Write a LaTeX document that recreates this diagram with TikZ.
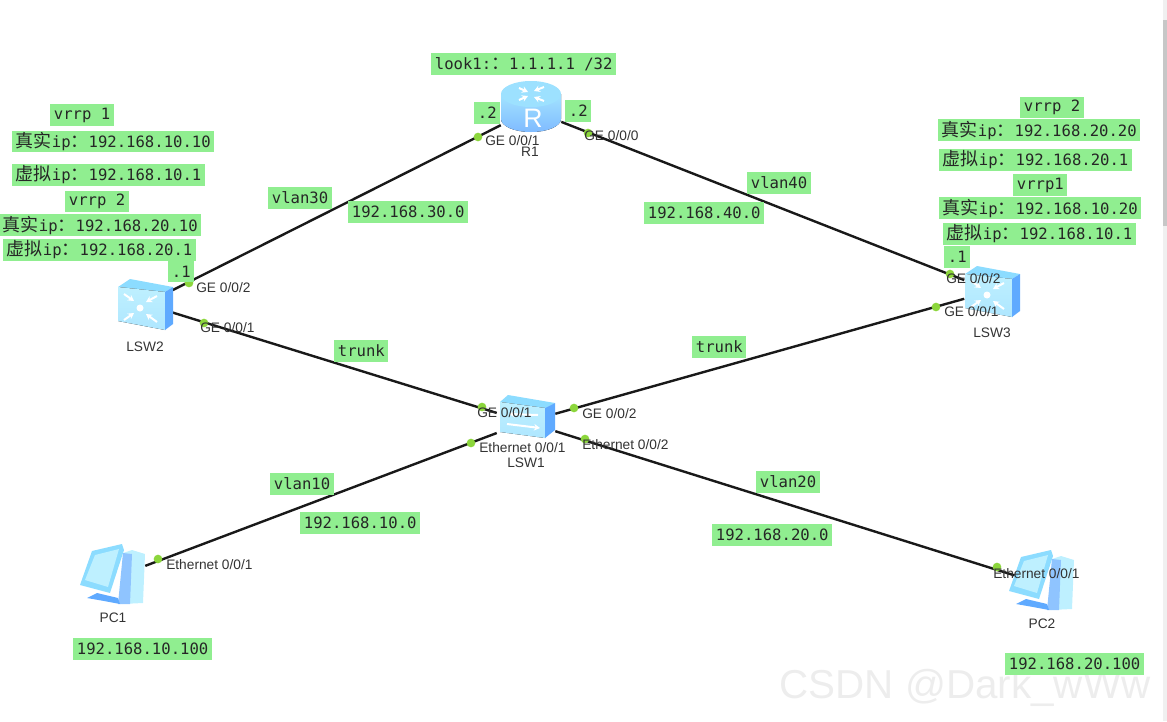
\documentclass[tikz,border=0pt]{standalone}
\usepackage{fontspec}
\setmainfont{Liberation Sans}
\setmonofont{DejaVu Sans Mono}
\newfontfamily\cjk{Noto Sans CJK SC}
\usetikzlibrary{arrows.meta}
\definecolor{tagfill}{RGB}{144,238,144}
\definecolor{portdot}{RGB}{140,214,60}
\definecolor{iconlight}{RGB}{190,240,255}
\definecolor{iconmid}{RGB}{140,220,255}
\definecolor{icondark}{RGB}{95,170,255}
\newcommand{\zw}[1]{{\cjk\fontsize{13.5pt}{13.5pt}\selectfont #1}}
\tikzset{
  tag/.style={fill=tagfill,anchor=west,font=\ttfamily\fontsize{11.7pt}{12pt}\selectfont,text=black!85,inner xsep=2.7pt,inner ysep=0pt,minimum height=16pt},
  port/.style={anchor=west,inner sep=0pt,font=\fontsize{10.3pt}{11pt}\selectfont,text=black!80},
  devname/.style={inner sep=0pt,font=\fontsize{10.3pt}{11pt}\selectfont,text=black!80},
  devbox/.style={minimum width=#1,inner sep=0pt},
  link/.style={line width=1.8pt,black!90},
  dot/.style={circle,fill=portdot,minimum size=6.5pt,inner sep=0pt},
  glyph/.style={white,line width=1.5pt,-{Stealth[length=4.5pt,width=5pt]}},
  switchtall/.pic={
    \fill [iconmid] (-27,-17) -- (-15,-25) -- (28,-17) -- (20,-12) -- cycle ;
    \fill [top color=iconlight,bottom color=iconmid!70] (-27,-17) -- (20,-12) -- (20,26) -- (-27,17) -- cycle ;
    \fill [icondark] (20,-12) -- (28,-17) -- (28,20) -- (20,26) -- cycle ;
    \draw [glyph] (-21,-10) -- (-11,-3) ;
    \draw [glyph] (12,-8) -- (1,-2) ;
    \draw [glyph] (-21,16) -- (-11,9) ;
    \draw [glyph] (12,18) -- (1,10) ;
    \fill [white] (-5,4) circle (3.5) ;
  },
  switchflat/.pic={
    \fill [iconmid] (-26,-20) -- (-18,-27) -- (29,-19) -- (19,-14) -- cycle ;
    \fill [top color=iconlight,bottom color=iconmid!70] (-26,-20) -- (19,-14) -- (19,16) -- (-26,10) -- cycle ;
    \fill [icondark] (19,-14) -- (29,-19) -- (29,8) -- (19,16) -- cycle ;
    \draw [glyph] (12,-7) -- (-17,-8) ;
    \draw [glyph] (-19,2) -- (14,6) ;
  },
  routericon/.pic={
    \fill [top color=iconmid!80,bottom color=icondark!80] (-30,-16) -- (-30,9) arc [start angle=180,end angle=360,x radius=30,y radius=-13] -- (30,-16) -- cycle ;
    \fill [iconmid!85] (0,-16) ellipse [x radius=30,y radius=13] ;
    \draw [glyph] (-12,-22) -- (-3,-18) ;
    \draw [glyph] (13,-23) -- (3,-19) ;
    \draw [glyph] (-12,-10) -- (-3,-14) ;
    \draw [glyph] (13,-9) -- (3,-13) ;
  },
  pcicon/.pic={
    \fill [iconlight] (19,-28) -- (32,-24) -- (30,25) -- (9,26) -- (10,-25) -- cycle ;
    \fill [icondark!70] (10,-25) -- (19,-24) -- (17,26) -- (5,26) -- cycle ;
    \fill [icondark] (-26,20) -- (-16,15) -- (5,20) -- (7,26) -- (-9,23) -- cycle ;
    \fill [iconmid] (-21,-27) -- (9,-34) -- (11,-28) -- (-3,15) -- (-33,7) -- cycle ;
    \fill [iconlight] (-18,-23) -- (6,-29) -- (-5,9) -- (-28,2) -- cycle ;
  }
}
\begin{document}
\begin{tikzpicture}[x=0.75pt,y=0.75pt,yscale=-1,xscale=1]
\useasboundingbox (0,0) rectangle (1167,721);

%Scroll bar
\fill [black!6] (1163,0) rectangle (1167,721) ;
\fill [black!22] (1163,20) rectangle (1167,226) ;

%Device boxes
\node [devbox=60pt*0.75,minimum height=34.5pt] (R1) at (531,110) {};
\node [devbox=55pt*0.75,minimum height=39pt] (LSW2) at (145,304) {};
\node [devbox=55pt*0.75,minimum height=39pt] (LSW3) at (992,291) {};
\node [devbox=58pt*0.75,minimum height=36pt] (LSW1) at (526,422) {};
\node [devbox=64pt*0.75,minimum height=48pt] (PC1) at (113,578) {};
\node [devbox=50pt*0.75,minimum height=48pt] (PC2) at (1042,584) {};

%Straight Lines
\draw [link] (LSW2) -- (R1) ;
\draw [link] (R1) -- (LSW3) ;
\draw [link] (LSW2) -- (LSW1) ;
\draw [link] (LSW1) -- (LSW3) ;
\draw [link] (PC1) -- (LSW1) ;
\draw [link] (LSW1) -- (PC2) ;

%Port dots
\node [dot] (dotA) at (189,283) {};
\node [dot] (dotB) at (204,323) {};
\node [dot] (dotC) at (478,137) {};
\node [dot] (dotD) at (588,133) {};
\node [dot] (dotE) at (950,274) {};
\node [dot] (dotF) at (936,307) {};
\node [dot] (dotG) at (482,407) {};
\node [dot] (dotH) at (574,408) {};
\node [dot] (dotI) at (471,443) {};
\node [dot] (dotJ) at (585,439) {};
\node [dot] (dotK) at (158,559) {};
\node [dot] (dotL) at (997,567) {};

%Device icons
\pic [transform shape] at (R1) {routericon};
\node [text=white,inner sep=0pt,font=\fontsize{20pt}{20pt}\selectfont] (Rmark) at (533,118) {R};
\pic [transform shape] at (LSW2) {switchtall};
\pic [transform shape] at (LSW3) {switchtall};
\pic [transform shape] at (LSW1) {switchflat};
\pic [transform shape] at (PC1) {pcicon};
\pic [transform shape] at (PC2) {pcicon};

% Watermark
\draw (965,688) node [text=black!7,inner sep=0pt,font=\fontsize{30.3pt}{31pt}\selectfont] (mark) {CSDN @Dark\_wWw};

% Device names
\draw (530,152) node [devname] (nameR1) {R1};
\draw (145,347) node [devname] (nameLSW2) {LSW2};
\draw (992,333) node [devname] (nameLSW3) {LSW3};
\draw (526,463) node [devname] (nameLSW1) {LSW1};
\draw (113,618) node [devname] (namePC1) {PC1};
\draw (1042,624) node [devname] (namePC2) {PC2};

% Port labels
\draw (196,288) node [port] (pA) {GE 0/0/2};
\draw (200,328) node [port] (pB) {GE 0/0/1};
\draw (485,141) node [port] (pC) {GE 0/0/1};
\draw (584,136) node [port] (pD) {GE 0/0/0};
\draw (946,279) node [port] (pE) {GE 0/0/2};
\draw (944,312) node [port] (pF) {GE 0/0/1};
\draw (477,413) node [port] (pG) {GE 0/0/1};
\draw (582,414) node [port] (pH) {GE 0/0/2};
\draw (479,448) node [port] (pI) {Ethernet 0/0/1};
\draw (582,445) node [port] (pJ) {Ethernet 0/0/2};
\draw (166,565) node [port] (pK) {Ethernet 0/0/1};
\draw (993,574) node [port] (pL) {Ethernet 0/0/1};

% Left tags
\draw (50,115) node [tag] (vrrpA) {vrrp 1};
\draw (12,141.5) node [tag] (realA) {\zw{真实}ip\zw{：}192.168.10.10};
\draw (12,175) node [tag] (virtA) {\zw{虚拟}ip\zw{：}192.168.10.1};
\draw (65,201.5) node [tag] (vrrpB) {vrrp 2};
\draw (-1,225) node [tag] (realB) {\zw{真实}ip\zw{：}192.168.20.10};
\draw (3,250) node [tag] (virtB) {\zw{虚拟}ip\zw{：}192.168.20.1};
\draw (168,271.5) node [tag] (hostA) {.1};

% Top tags
\draw (431,64) node [tag] (loop) {look1:\zw{：}1.1.1.1 /32};
\draw (474,113) node [tag] (hostB) {.2};
\draw (565,111) node [tag] (hostC) {.2};

% Right tags
\draw (1020,107.5) node [tag] (vrrpC) {vrrp 2};
\draw (938,130) node [tag] (realC) {\zw{真实}ip\zw{：}192.168.20.20};
\draw (939,160) node [tag] (virtC) {\zw{虚拟}ip\zw{：}192.168.20.1};
\draw (1013,185) node [tag] (vrrpD) {vrrp1};
\draw (939,208) node [tag] (realD) {\zw{真实}ip\zw{：}192.168.10.20};
\draw (943,234) node [tag] (virtD) {\zw{虚拟}ip\zw{：}192.168.10.1};
\draw (944,257) node [tag] (hostD) {.1};

% Link tags
\draw (268,198) node [tag] (vlanC) {vlan30};
\draw (348,212) node [tag] (netC) {192.168.30.0};
\draw (747,183) node [tag] (vlanD) {vlan40};
\draw (644,213) node [tag] (netD) {192.168.40.0};
\draw (334,351) node [tag] (trunkA) {trunk};
\draw (692,347) node [tag] (trunkB) {trunk};
\draw (270,484) node [tag] (vlanA) {vlan10};
\draw (300,523) node [tag] (netA) {192.168.10.0};
\draw (756,482) node [tag] (vlanB) {vlan20};
\draw (712,535) node [tag] (netB) {192.168.20.0};
\draw (73,649) node [tag] (hostPCA) {192.168.10.100};
\draw (1005,664) node [tag] (hostPCB) {192.168.20.100};

\end{tikzpicture}
\end{document}
